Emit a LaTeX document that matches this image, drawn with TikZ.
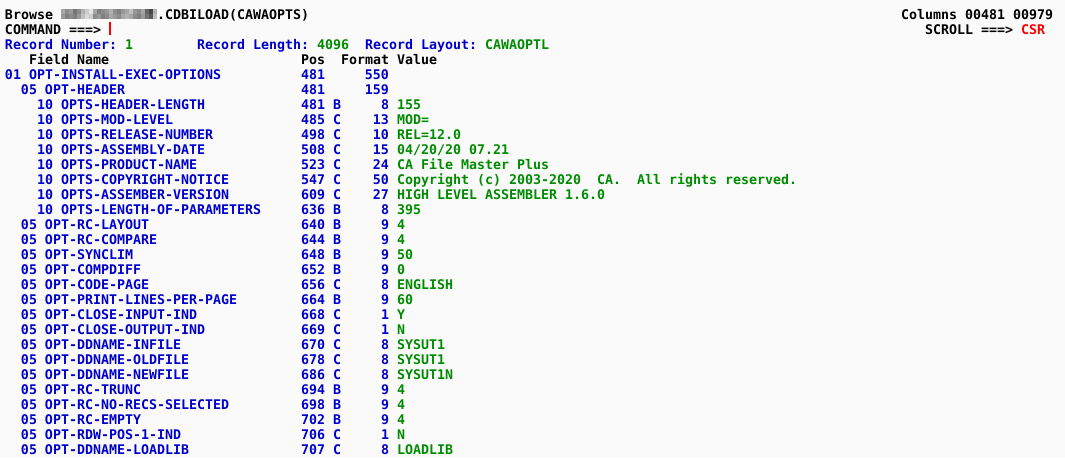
\documentclass[tikz,border=0pt]{standalone}
\usepackage{fontspec}
\setmonofont{DejaVu Sans Mono}
\definecolor{scrbg}{RGB}{250,250,250}
\definecolor{tblue}{RGB}{0,0,205}
\definecolor{tgreen}{RGB}{0,140,0}
\definecolor{tred}{RGB}{255,0,0}
\definecolor{tblack}{RGB}{0,0,0}
\tikzset{
  term/.style={inner sep=0pt, outer sep=0pt, anchor=base west,
    font=\ttfamily\bfseries\fontsize{9.97}{12}\selectfont},
  fldname/.style={term, text=tblue},
  fldval/.style={term, text=tgreen},
  hdr/.style={term, text=tblack},
  redtxt/.style={term, text=tred},
  rnum/.style={term, text=tblue, anchor=base east},
}
% one data row: #1 row, #2 level column, #3 level, #4 name, #5 pos, #6 format, #7 length, #8 value
\newcommand\fmrow[8]{%
  \node[fldname] (lv#1) at ({5+8*#2},{19+15*#1}) {#3};
  \node[fldname] (nm#1) at ({5+8*(#2+3)},{19+15*#1}) {#4};
  \node[fldname] (ps#1) at ({5+8*37},{19+15*#1}) {#5};
  \node[fldname] (ft#1) at ({5+8*41},{19+15*#1}) {#6};
  \node[rnum] (ln#1) at ({5+8*48},{19+15*#1}) {#7};
  \node[fldval] (vl#1) at ({5+8*49},{19+15*#1}) {#8};
}
\begin{document}
\begin{tikzpicture}[x=0.75pt,y=-0.75pt]
\fill[scrbg] (0,0) rectangle (1065,458);
% row 0
\node[hdr] (browse) at ({5+8*0},19) {Browse};
\foreach \v [count=\i from 0] in {35,45,40,55,45,30,20,10,35,50,45,40,30,45,50,40,35,25,40,45,35,60,72,30}
  \fill[black!\v] ({61+4*\i},9) rectangle ++(4,5);
\foreach \v [count=\i from 0] in {40,50,45,50,40,25,15,20,45,40,50,45,35,40,45,35,30,35,45,50,40,55,65,25}
  \fill[black!\v] ({61+4*\i},14) rectangle ++(4,5);
\node[hdr] (dsn) at ({5+8*19},19) {.CDBILOAD(CAWAOPTS)};
\node[hdr] (cols) at ({5+8*112},19) {Columns 00481 00979};
% row 1
\node[hdr] (cmd) at ({5+8*0},34) {COMMAND ===>};
\fill[tred] (109,22) rectangle (111,35);
\node[hdr] (scroll) at ({5+8*115},34) {SCROLL ===>};
\node[redtxt] (csr) at ({5+8*127},34) {CSR};
% row 2
\node[fldname] (rnl) at ({5+8*0},49) {Record Number:};
\node[fldval] (rnv) at ({5+8*15},49) {1};
\node[fldname] (rll) at ({5+8*24},49) {Record Length:};
\node[fldval] (rlv) at ({5+8*39},49) {4096};
\node[fldname] (ryl) at ({5+8*45},49) {Record Layout:};
\node[fldval] (ryv) at ({5+8*60},49) {CAWAOPTL};
% row 3
\node[hdr] (hfn) at ({5+8*3},64) {Field Name};
\node[hdr] (hpos) at ({5+8*37},64) {Pos};
\node[hdr] (hfmt) at ({5+8*42},64) {Format};
\node[hdr] (hval) at ({5+8*49},64) {Value};
% row 4, 5
\node[fldname] (lv4) at ({5+8*0},79) {01};
\node[fldname] (nm4) at ({5+8*3},79) {OPT-INSTALL-EXEC-OPTIONS};
\node[fldname] (ps4) at ({5+8*37},79) {481};
\node[rnum] (ln4) at ({5+8*48},79) {550};
\node[fldname] (lv5) at ({5+8*2},94) {05};
\node[fldname] (nm5) at ({5+8*5},94) {OPT-HEADER};
\node[fldname] (ps5) at ({5+8*37},94) {481};
\node[rnum] (ln5) at ({5+8*48},94) {159};
% data rows
\fmrow{6}{4}{10}{OPTS-HEADER-LENGTH}{481}{B}{8}{155}
\fmrow{7}{4}{10}{OPTS-MOD-LEVEL}{485}{C}{13}{MOD=}
\fmrow{8}{4}{10}{OPTS-RELEASE-NUMBER}{498}{C}{10}{REL=12.0}
\fmrow{9}{4}{10}{OPTS-ASSEMBLY-DATE}{508}{C}{15}{04/20/20 07.21}
\fmrow{10}{4}{10}{OPTS-PRODUCT-NAME}{523}{C}{24}{CA File Master Plus}
\fmrow{11}{4}{10}{OPTS-COPYRIGHT-NOTICE}{547}{C}{50}{Copyright (c) 2003-2020\ \ CA.\ \ All rights reserved.}
\fmrow{12}{4}{10}{OPTS-ASSEMBER-VERSION}{609}{C}{27}{HIGH LEVEL ASSEMBLER 1.6.0}
\fmrow{13}{4}{10}{OPTS-LENGTH-OF-PARAMETERS}{636}{B}{8}{395}
\fmrow{14}{2}{05}{OPT-RC-LAYOUT}{640}{B}{9}{4}
\fmrow{15}{2}{05}{OPT-RC-COMPARE}{644}{B}{9}{4}
\fmrow{16}{2}{05}{OPT-SYNCLIM}{648}{B}{9}{50}
\fmrow{17}{2}{05}{OPT-COMPDIFF}{652}{B}{9}{0}
\fmrow{18}{2}{05}{OPT-CODE-PAGE}{656}{C}{8}{ENGLISH}
\fmrow{19}{2}{05}{OPT-PRINT-LINES-PER-PAGE}{664}{B}{9}{60}
\fmrow{20}{2}{05}{OPT-CLOSE-INPUT-IND}{668}{C}{1}{Y}
\fmrow{21}{2}{05}{OPT-CLOSE-OUTPUT-IND}{669}{C}{1}{N}
\fmrow{22}{2}{05}{OPT-DDNAME-INFILE}{670}{C}{8}{SYSUT1}
\fmrow{23}{2}{05}{OPT-DDNAME-OLDFILE}{678}{C}{8}{SYSUT1}
\fmrow{24}{2}{05}{OPT-DDNAME-NEWFILE}{686}{C}{8}{SYSUT1N}
\fmrow{25}{2}{05}{OPT-RC-TRUNC}{694}{B}{9}{4}
\fmrow{26}{2}{05}{OPT-RC-NO-RECS-SELECTED}{698}{B}{9}{4}
\fmrow{27}{2}{05}{OPT-RC-EMPTY}{702}{B}{9}{4}
\fmrow{28}{2}{05}{OPT-RDW-POS-1-IND}{706}{C}{1}{N}
\fmrow{29}{2}{05}{OPT-DDNAME-LOADLIB}{707}{C}{8}{LOADLIB}
\end{tikzpicture}
\end{document}
